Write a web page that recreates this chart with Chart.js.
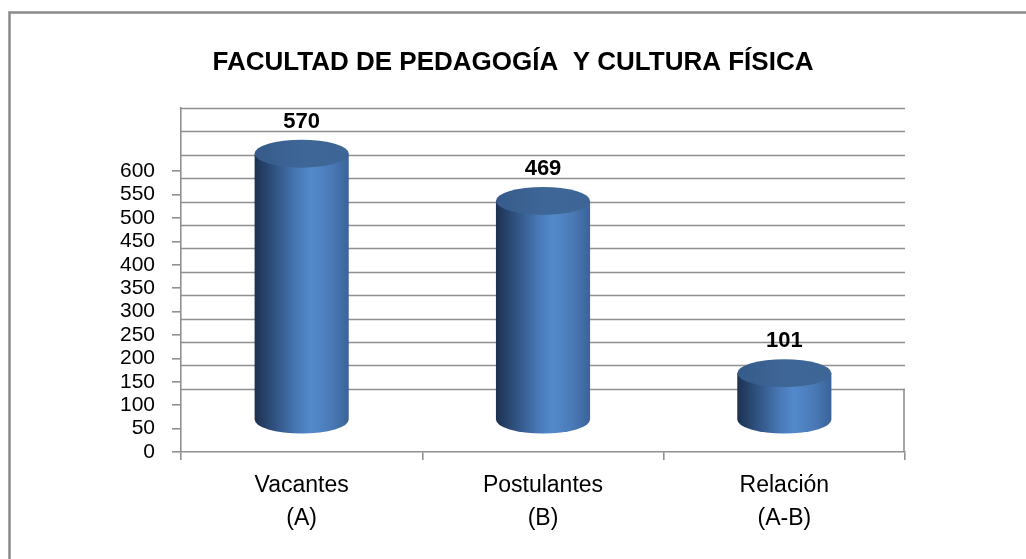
<!DOCTYPE html>
<html>
<head>
<meta charset="utf-8">
<script src="https://cdn.jsdelivr.net/npm/chart.js"></script>
<style>
  html, body { margin: 0; padding: 0; background: #fff; }
  #box { width: 1026px; height: 559px; }
</style>
</head>
<body>
<div id="box"><canvas id="chart"></canvas></div>
<script>
// data
const categories = [["Vacantes", "(A)"], ["Postulantes", "(B)"], ["Relación", "(A-B)"]];
const values = [570, 469, 101];
const tickValues = [0, 50, 100, 150, 200, 250, 300, 350, 400, 450, 500, 550, 600];
const chartTitle = "FACULTAD DE PEDAGOGÍA  Y CULTURA FÍSICA";

Chart.defaults.font.family = '"Liberation Sans", Arial, sans-serif';
Chart.defaults.color = "#000";

const gridColor = "#909090";

// depth of the fake 3D box: back wall top sits where the top tick would be
function depthOf(chart) {
    const y = chart.scales.y;
    return y.getPixelForValue(tickValues[tickValues.length - 1]) - chart.chartArea.top;
}

const frame = {
    id: "frame",
    beforeDraw(chart) {
        const ctx = chart.ctx;
        ctx.save();
        ctx.strokeStyle = "#8a8a8a";
        ctx.lineWidth = 2.5;
        ctx.beginPath();
        ctx.moveTo(9.5, chart.height);
        ctx.lineTo(9.5, 12.5);
        ctx.lineTo(chart.width, 12.5);
        ctx.stroke();
        ctx.restore();
    }
};

// back wall grid lines, shifted up by the depth
const wall = {
    id: "wall",
    beforeDatasetsDraw(chart) {
        const { ctx, chartArea } = chart;
        const y = chart.scales.y;
        const d = depthOf(chart);
        ctx.save();
        ctx.strokeStyle = gridColor;
        ctx.lineWidth = 1.6;
        tickValues.forEach(v => {
            const py = Math.round(y.getPixelForValue(v) - d) + 0.5;
            ctx.beginPath();
            ctx.moveTo(chartArea.left, py);
            ctx.lineTo(chartArea.right, py);
            ctx.stroke();
        });
        // right edge of the floor
        const back0 = y.getPixelForValue(0) - d;
        ctx.beginPath();
        ctx.moveTo(chartArea.right - 1, back0);
        ctx.lineTo(chartArea.right - 1, chartArea.bottom);
        ctx.stroke();
        ctx.restore();
    }
};

const cylinders = {
    id: "cylinders",
    afterDatasetsDraw(chart) {
        const ctx = chart.ctx;
        const meta = chart.getDatasetMeta(0);
        const shift = depthOf(chart) / 2;
        meta.data.forEach((bar, i) => {
            const p = bar.getProps(["x", "y", "base", "width"], true);
            const rx = p.width / 2, ry = 14;
            const top = p.y - shift, bottom = p.base - shift;
            const g = ctx.createLinearGradient(p.x - rx, 0, p.x + rx, 0);
            g.addColorStop(0, "#1c3150");
            g.addColorStop(0.18, "#2d4d7a");
            g.addColorStop(0.45, "#4878b6");
            g.addColorStop(0.6, "#538acc");
            g.addColorStop(0.82, "#4a79b6");
            g.addColorStop(1, "#3a6399");
            ctx.save();
            ctx.beginPath();
            ctx.moveTo(p.x - rx, top);
            ctx.lineTo(p.x - rx, bottom);
            ctx.ellipse(p.x, bottom, rx, ry, 0, Math.PI, 0, true);
            ctx.lineTo(p.x + rx, top);
            ctx.closePath();
            ctx.fillStyle = g;
            ctx.fill();
            const gt = ctx.createLinearGradient(p.x - rx, 0, p.x + rx, 0);
            gt.addColorStop(0, "#365b8a");
            gt.addColorStop(0.5, "#3e6697");
            gt.addColorStop(1, "#3d6596");
            ctx.beginPath();
            ctx.ellipse(p.x, top, rx, ry, 0, 0, Math.PI * 2);
            ctx.fillStyle = gt;
            ctx.fill();
            // value label
            ctx.fillStyle = "#000";
            ctx.font = 'bold 22px "Liberation Sans", Arial, sans-serif';
            ctx.textAlign = "center";
            ctx.textBaseline = "middle";
            ctx.fillText(String(values[i]), p.x, top - ry - 18);
            ctx.restore();
        });
    }
};

const config = {
    type: "bar",
    data: {
        labels: categories,
        datasets: [{
            data: values,
            backgroundColor: "rgba(0,0,0,0)",
            borderWidth: 0,
            barPercentage: 0.39,
            categoryPercentage: 1.0,
        }],
    },
    options: {
        responsive: true,
        maintainAspectRatio: false,
        animation: false,
        layout: { padding: 0 },
        plugins: {
            legend: { display: false },
            tooltip: { enabled: false },
            title: {
                display: true,
                text: chartTitle,
                color: "#000",
                font: { size: 26, weight: "bold", lineHeight: 1.2 },
                padding: { top: 47, bottom: 29.8 },
            },
        },
        scales: {
            x: {
                grid: { drawOnChartArea: false, tickLength: 8, color: gridColor, lineWidth: 1.6 },
                border: { display: true, color: gridColor, width: 1.6 },
                ticks: { font: { size: 23, lineHeight: 1.45 }, color: "#000", padding: 9, maxRotation: 0 },
                afterFit(scale) { scale.height = 107; },
            },
            y: {
                min: 0,
                max: 735,
                afterBuildTicks(scale) { scale.ticks = tickValues.map(v => ({ value: v })); },
                grid: { drawOnChartArea: false, tickLength: 9, color: gridColor, lineWidth: 1.6 },
                border: { display: true, color: gridColor, width: 1.6 },
                ticks: { font: { size: 21 }, color: "#000", padding: 17 },
                afterFit(scale) { scale.width = 181; },
            },
            // empty right-hand axis, only keeps the blank margin on the right
            yRight: {
                position: "right",
                grid: { display: false },
                border: { display: false },
                ticks: { display: false },
                afterFit(scale) { scale.width = 121; },
            },
        },
    },
    plugins: [frame, wall, cylinders],
};

const mychart = new Chart(document.getElementById("chart").getContext("2d"), config);
</script>
</body>
</html>
